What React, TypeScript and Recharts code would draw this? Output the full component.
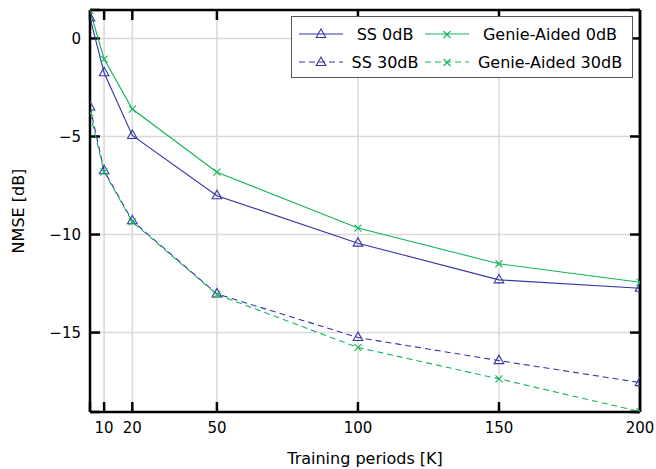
import React from 'react';
import { LineChart, Line, XAxis, YAxis, CartesianGrid, Legend } from 'recharts';

const periods = [5, 10, 20, 50, 100, 150, 200];
const ss0dB = [1.05, -1.75, -4.95, -8.02, -10.44, -12.31, -12.74];
const genie0dB = [1.42, -1.05, -3.6, -6.82, -9.67, -11.49, -12.43];
const ss30dB = [-3.5, -6.75, -9.3, -13.03, -15.25, -16.43, -17.55];
const genie30dB = [-3.8, -6.8, -9.35, -13.06, -15.76, -17.36, -19.03];

const xTicks = [10, 20, 50, 100, 150, 200];
const yTicks = [-15, -10, -5, 0];
const X_MIN = 5;
const X_MAX = 200;
const Y_MIN = -19.05;
const Y_MAX = 1.45;

const BLUE = '#3434a6';
const GREEN = '#14b45a';
const GRID = '#d9d9d9';
const FONT = '"DejaVu Sans", sans-serif';

const W = 656;
const H = 469;
const PLOT_LEFT = 90;
const PLOT_TOP = 10;
const PLOT_RIGHT = 640;
const PLOT_BOTTOM = 412;
const FRAME_W = 2.5;
const TICK_LEN = 10;

const frame = { stroke: '#000', strokeWidth: FRAME_W };

const data = periods.map((k, i) => ({
  k,
  ss0: ss0dB[i],
  genie0: genie0dB[i],
  ss30: ss30dB[i],
  genie30: genie30dB[i],
}));

const series = [
  { key: 'ss0', name: 'SS 0dB', color: BLUE, dash: undefined, mark: 'tri' },
  { key: 'genie0', name: 'Genie-Aided 0dB', color: GREEN, dash: undefined, mark: 'cross' },
  { key: 'ss30', name: 'SS 30dB', color: BLUE, dash: '6 4', mark: 'tri' },
  { key: 'genie30', name: 'Genie-Aided 30dB', color: GREEN, dash: '6 4', mark: 'cross' },
];

function Marker({ cx, cy, mark, color }: any) {
  if (cx == null || cy == null) return null;
  if (mark === 'tri') {
    return (
      <path
        d={`M${cx},${cy - 5.5} L${cx - 4.8},${cy + 3} L${cx + 4.8},${cy + 3} Z`}
        fill="none"
        stroke={color}
        strokeWidth={1.1}
      />
    );
  }
  const s = 3.5;
  return (
    <path
      d={`M${cx - s},${cy - s} L${cx + s},${cy + s} M${cx - s},${cy + s} L${cx + s},${cy - s}`}
      stroke={color}
      strokeWidth={1.1}
    />
  );
}

// grid line + inward black tick marks at both ends (pgfplots style)
function VGridLine(p: any) {
  const { x1, y1, y2, index } = p;
  const top = Math.min(y1, y2);
  const bottom = Math.max(y1, y2);
  if (Math.abs(x1 - PLOT_RIGHT) < 1) {
    return (
      <g key={`v-${index}`}>
        <line x1={x1} x2={x1} y1={top} y2={bottom} {...frame} />
      </g>
    );
  }
  return (
    <g key={`v-${index}`}>
      <line x1={x1} x2={x1} y1={top} y2={bottom} stroke={GRID} strokeWidth={1.5} />
      <line x1={x1} x2={x1} y1={top} y2={top + TICK_LEN} {...frame} />
      <line x1={x1} x2={x1} y1={bottom - TICK_LEN} y2={bottom} {...frame} />
    </g>
  );
}

function HGridLine(p: any) {
  const { x1, x2, y1, index } = p;
  const left = Math.min(x1, x2);
  const right = Math.max(x1, x2);
  return (
    <g key={`h-${index}`}>
      <line x1={left} x2={right} y1={y1} y2={y1} stroke={GRID} strokeWidth={1.5} />
      <line x1={left} x2={left + TICK_LEN} y1={y1} y2={y1} {...frame} />
      <line x1={right - TICK_LEN} x2={right} y1={y1} y2={y1} {...frame} />
    </g>
  );
}

const fmt = (v: number) => String(v).replace('-', '\u2212');

function XTick({ x, y, payload }: any) {
  return (
    <text x={x} y={y} dy="0.71em" textAnchor="middle" fontSize={15} fontFamily={FONT} fill="#000" stroke="none">
      {fmt(payload.value)}
    </text>
  );
}

function YTick({ x, y, payload }: any) {
  return (
    <text x={x} y={y} dy="0.36em" textAnchor="end" fontSize={15} fontFamily={FONT} fill="#000" stroke="none">
      {fmt(payload.value)}
    </text>
  );
}

function Sample({ color, dash, mark }: any) {
  return (
    <svg width={46} height={14} style={{ display: 'block' }}>
      <line x1={1} x2={45} y1={7} y2={7} stroke={color} strokeWidth={1.1} strokeDasharray={dash} />
      <Marker cx={23} cy={7.5} mark={mark} color={color} />
    </svg>
  );
}

function LegendBox() {
  return (
    <div
      style={{
        background: '#fff',
        border: '1px solid #555',
        width: 342,
        height: 62,
        boxSizing: 'border-box',
        display: 'grid',
        gridTemplateColumns: '48px 78px 48px 156px',
        gridTemplateRows: '28px 28px',
        alignItems: 'center',
        padding: '3px 0 0 6px',
        fontFamily: FONT,
        fontSize: 16,
        color: '#000',
      }}
    >
      {series.map((s) => (
        <React.Fragment key={s.key}>
          <Sample color={s.color} dash={s.dash} mark={s.mark} />
          <div style={{ textAlign: 'center', whiteSpace: 'nowrap' }}>{s.name}</div>
        </React.Fragment>
      ))}
    </div>
  );
}

export default function App() {
  return (
    <div style={{ position: 'absolute', left: 0, top: 0, width: W, height: H, background: '#fff' }}>
      <LineChart
        width={W}
        height={H}
        data={data}
        margin={{ top: PLOT_TOP, right: W - PLOT_RIGHT, bottom: 0, left: 0 }}
      >
        <CartesianGrid horizontal={HGridLine} vertical={VGridLine} />
        {series.map((s) => (
          <Line
            key={s.key}
            dataKey={s.key}
            name={s.name}
            type="linear"
            stroke={s.color}
            strokeWidth={1.1}
            strokeDasharray={s.dash}
            dot={(p: any) => <Marker key={`${s.key}-${p.index}`} cx={p.cx} cy={p.cy} mark={s.mark} color={s.color} />}
            activeDot={false}
            isAnimationActive={false}
          />
        ))}
        <XAxis
          dataKey="k"
          type="number"
          domain={[X_MIN, X_MAX]}
          ticks={xTicks}
          allowDataOverflow
          height={H - PLOT_BOTTOM}
          stroke="#000"
          strokeWidth={FRAME_W}
          axisLine={frame}
          tickLine={false}
          tickSize={0}
          tickMargin={10}
          tick={<XTick />}
          label={{
            content: ({ viewBox }: any) => (
              <text
                x={viewBox.x + viewBox.width / 2}
                y={464}
                textAnchor="middle"
                fontSize={16}
                fontFamily={FONT}
                fill="#000"
              >
                Training periods [K]
              </text>
            ),
          }}
        />
        {/* top frame edge */}
        <XAxis
          xAxisId="top"
          dataKey="k"
          type="number"
          orientation="top"
          mirror
          height={1}
          domain={[X_MIN, X_MAX]}
          ticks={xTicks}
          allowDataOverflow
          stroke="#000"
          strokeWidth={FRAME_W}
          axisLine={frame}
          tickLine={false}
          tick={false}
        />
        <YAxis
          type="number"
          domain={[Y_MIN, Y_MAX]}
          ticks={yTicks}
          allowDataOverflow
          width={PLOT_LEFT}
          stroke="#000"
          strokeWidth={FRAME_W}
          axisLine={frame}
          tickLine={false}
          tickSize={0}
          tickMargin={9}
          tick={<YTick />}
          label={{
            content: ({ viewBox }: any) => {
              const cx = 18;
              const cy = viewBox.y + viewBox.height / 2;
              return (
                <text
                  x={cx}
                  y={cy}
                  transform={`rotate(-90, ${cx}, ${cy})`}
                  textAnchor="middle"
                  dominantBaseline="central"
                  fontSize={16}
                  fontFamily={FONT}
                  fill="#000"
                >
                  NMSE [dB]
                </text>
              );
            },
          }}
        />
        {/* right frame edge */}
        <YAxis
          yAxisId="right"
          type="number"
          orientation="right"
          mirror
          width={1}
          domain={[Y_MIN, Y_MAX]}
          ticks={yTicks}
          allowDataOverflow
          stroke="#000"
          strokeWidth={FRAME_W}
          axisLine={frame}
          tickLine={false}
          tick={false}
        />
        <Legend
          layout="vertical"
          align="center"
          verticalAlign="middle"
          wrapperStyle={{ left: 291, top: 16, width: 342 }}
          content={() => <LegendBox />}
        />
      </LineChart>
    </div>
  );
}
